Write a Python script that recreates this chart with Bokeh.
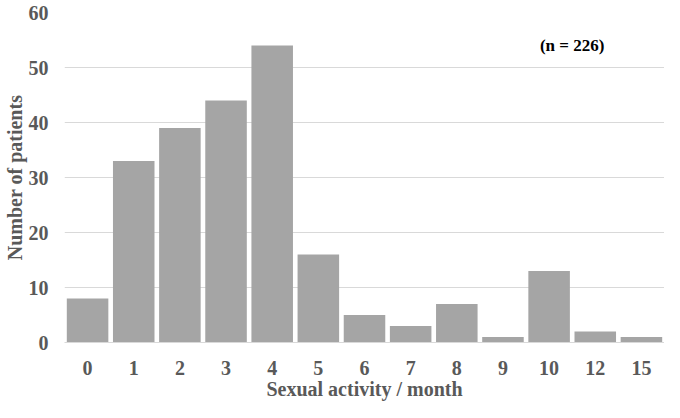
from bokeh.plotting import figure
from bokeh.models import FactorRange, Range1d, Label, FixedTicker
from bokeh.embed import file_html
from bokeh.resources import INLINE

categories = ["0", "1", "2", "3", "4", "5", "6", "7", "8", "9", "10", "12", "15"]
patients = [8, 33, 39, 44, 54, 16, 5, 3, 7, 1, 13, 2, 1]
y_ticks = [0, 10, 20, 30, 40, 50, 60]

FONT = "Liberation Serif"
GREY = "#595959"

p = figure(width=664, height=402, x_range=FactorRange(*categories, range_padding=0.0),
           y_range=Range1d(0, 60), output_backend="svg", toolbar_location=None,
           min_border_left=40, min_border_right=0, min_border_top=12, min_border_bottom=10)
p.outline_line_color = None
p.background_fill_color = "white"

p.vbar(x=categories, top=patients, width=0.9, color="#a5a5a5", line_color=None)

p.yaxis.ticker = FixedTicker(ticks=y_ticks)
p.ygrid.grid_line_color = "#d9d9d9"
p.ygrid.grid_line_width = 1
p.xgrid.grid_line_color = None

for ax in (p.xaxis[0], p.yaxis[0]):
    ax.major_label_text_font = FONT
    ax.major_label_text_font_style = "bold"
    ax.major_label_text_font_size = "20px"
    ax.major_label_text_color = GREY
    ax.axis_label_text_font = FONT
    ax.axis_label_text_font_style = "bold"
    ax.axis_label_text_font_size = "20px"
    ax.axis_label_text_color = GREY
    ax.major_tick_line_color = None
    ax.minor_tick_line_color = None

p.yaxis.axis_line_color = None
p.xaxis.axis_line_color = "#d9d9d9"
p.yaxis.axis_label = "Number of patients"
p.xaxis.axis_label = "Sexual activity / month"
p.yaxis.axis_label_standoff = 0
p.xaxis.axis_label_standoff = 0
p.xaxis.major_label_standoff = 12
p.yaxis.major_label_standoff = 10

p.add_layout(Label(x=11.0, y=54, text="(n = 226)", text_font=FONT,
                   text_font_style="bold", text_font_size="17px",
                   text_color="black", text_align="center", text_baseline="middle"))

open("out.html", "w").write(file_html(p, INLINE))
